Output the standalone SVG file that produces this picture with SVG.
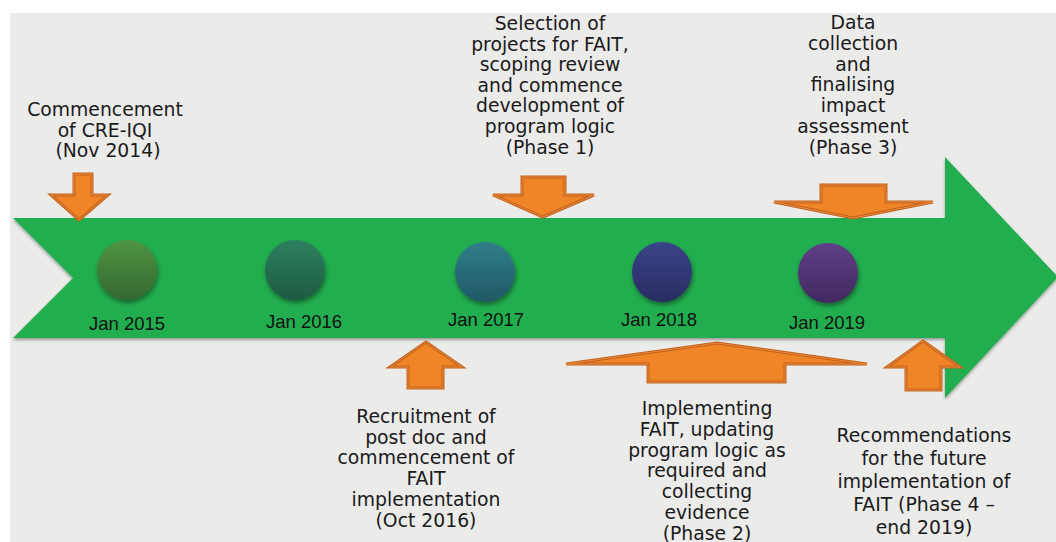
<svg xmlns="http://www.w3.org/2000/svg" width="1056" height="542" viewBox="0 0 1056 542">
<style>
.lbl{font-family:"DejaVu Sans","Verdana",sans-serif;font-size:18.8px;fill:#1a1a1a;text-anchor:middle}
.date{font-family:"Liberation Sans",Arial,sans-serif;font-size:18.5px;fill:#111;text-anchor:middle}
.or{fill:#f08527;stroke:#c3621d;stroke-width:3;stroke-linejoin:miter}
.orin{fill:none;stroke:#e9893a;stroke-width:1;stroke-linejoin:miter}
</style>
<defs>
<filter id="sh" x="-10%" y="-10%" width="120%" height="130%">
<feDropShadow dx="0" dy="2" stdDeviation="1.5" flood-color="#000" flood-opacity="0.35"/>
</filter>
<filter id="csh" x="-30%" y="-30%" width="160%" height="160%">
<feDropShadow dx="1" dy="3" stdDeviation="2" flood-color="#000" flood-opacity="0.4"/>
</filter>
<linearGradient id="g1" x1="0" y1="0" x2="0" y2="1"><stop offset="0" stop-color="#4f9444"/><stop offset="1" stop-color="#35682f"/></linearGradient>
<linearGradient id="g2" x1="0" y1="0" x2="0" y2="1"><stop offset="0" stop-color="#2d8060"/><stop offset="1" stop-color="#1e5a43"/></linearGradient>
<linearGradient id="g3" x1="0" y1="0" x2="0" y2="1"><stop offset="0" stop-color="#2f7f8a"/><stop offset="1" stop-color="#215866"/></linearGradient>
<linearGradient id="g4" x1="0" y1="0" x2="0" y2="1"><stop offset="0" stop-color="#3a4488"/><stop offset="1" stop-color="#2a2c62"/></linearGradient>
<linearGradient id="g5" x1="0" y1="0" x2="0" y2="1"><stop offset="0" stop-color="#5e3f86"/><stop offset="1" stop-color="#42295f"/></linearGradient>
</defs>
<rect x="0" y="0" width="1056" height="542" fill="#ffffff"/>
<rect x="10" y="13" width="1046" height="529" fill="#ebebea"/>

<g id="timeline">
<polygon points="13,218 945,218 945,157 1058,277 945,398 945,338 13,338 73,278" fill="#22ad50" filter="url(#sh)"/>
</g>

<g id="connectors">
<g id="arrow-commencement"><polygon class="or" points="74,174 92,174 92,195 108,195 79,220 51,195 74,195"/><polygon class="orin" points="74,174 92,174 92,195 108,195 79,220 51,195 74,195"/></g>
<g id="arrow-phase1"><polygon class="or" points="522,177 565,177 565,195 594,195 543,217 493,195 522,195"/><polygon class="orin" points="522,177 565,177 565,195 594,195 543,217 493,195 522,195"/></g>
<g id="arrow-phase3"><polygon class="or" points="821,185 886,185 886,202 933,202 853,218 774,202 821,202"/><polygon class="orin" points="821,185 886,185 886,202 933,202 853,218 774,202 821,202"/></g>
<g id="arrow-oct2016"><polygon class="or" points="426,342 462,367 443,367 443,388 408,388 408,367 390,367"/><polygon class="orin" points="426,342 462,367 443,367 443,388 408,388 408,367 390,367"/></g>
<g id="arrow-phase2"><polygon class="or" points="717,343 867,364 785,364 785,382 648,382 648,364 566,364"/><polygon class="orin" points="717,343 867,364 785,364 785,382 648,382 648,364 566,364"/></g>
<g id="arrow-phase4"><polygon class="or" points="923,341 960,367 941,367 941,390 906,390 906,367 887,367"/><polygon class="orin" points="923,341 960,367 941,367 941,390 906,390 906,367 887,367"/></g>
</g>

<g id="node-jan2015"><circle cx="127" cy="270" r="30" fill="url(#g1)" filter="url(#csh)"/><text class="date" x="127" y="330">Jan 2015</text></g>
<g id="node-jan2016"><circle cx="295" cy="270" r="30" fill="url(#g2)" filter="url(#csh)"/><text class="date" x="304" y="328">Jan 2016</text></g>
<g id="node-jan2017"><circle cx="485" cy="272" r="30" fill="url(#g3)" filter="url(#csh)"/><text class="date" x="486" y="326">Jan 2017</text></g>
<g id="node-jan2018"><circle cx="662" cy="272" r="30" fill="url(#g4)" filter="url(#csh)"/><text class="date" x="659" y="326">Jan 2018</text></g>
<g id="node-jan2019"><circle cx="828" cy="273" r="30" fill="url(#g5)" filter="url(#csh)"/><text class="date" x="827" y="329">Jan 2019</text></g>

<g id="label-commencement">
<text class="lbl" x="105" y="116">Commencement</text>
<text class="lbl" x="105" y="137">of CRE-IQI</text>
<text class="lbl" x="108" y="157">(Nov 2014)</text>
</g>
<g id="label-phase1">
<text class="lbl" x="550" y="30">Selection of</text>
<text class="lbl" x="550" y="50.6">projects for FAIT,</text>
<text class="lbl" x="550" y="71.2">scoping review</text>
<text class="lbl" x="550" y="91.8">and commence</text>
<text class="lbl" x="550" y="112.4">development of</text>
<text class="lbl" x="550" y="133">program logic</text>
<text class="lbl" x="550" y="153.6">(Phase 1)</text>
</g>
<g id="label-phase3">
<text class="lbl" x="853" y="29">Data</text>
<text class="lbl" x="853" y="49.8">collection</text>
<text class="lbl" x="853" y="70.6">and</text>
<text class="lbl" x="853" y="91.4">finalising</text>
<text class="lbl" x="853" y="112.2">impact</text>
<text class="lbl" x="853" y="133">assessment</text>
<text class="lbl" x="853" y="153.8">(Phase 3)</text>
</g>
<g id="label-oct2016">
<text class="lbl" x="426" y="423">Recruitment of</text>
<text class="lbl" x="426" y="443.7">post doc and</text>
<text class="lbl" x="426" y="464.4">commencement of</text>
<text class="lbl" x="426" y="485.1">FAIT</text>
<text class="lbl" x="426" y="505.8">implementation</text>
<text class="lbl" x="426" y="526.5">(Oct 2016)</text>
</g>
<g id="label-phase2">
<text class="lbl" x="707" y="415">Implementing</text>
<text class="lbl" x="707" y="435.8">FAIT, updating</text>
<text class="lbl" x="707" y="456.6">program logic as</text>
<text class="lbl" x="707" y="477.4">required and</text>
<text class="lbl" x="707" y="498.2">collecting</text>
<text class="lbl" x="707" y="519">evidence</text>
<text class="lbl" x="707" y="539.8">(Phase 2)</text>
</g>
<g id="label-phase4">
<text class="lbl" x="924" y="442">Recommendations</text>
<text class="lbl" x="924" y="464.5">for the future</text>
<text class="lbl" x="924" y="487.5">implementation of</text>
<text class="lbl" x="924" y="510.5">FAIT (Phase 4 –</text>
<text class="lbl" x="924" y="533.5">end 2019)</text>
</g>
</svg>
